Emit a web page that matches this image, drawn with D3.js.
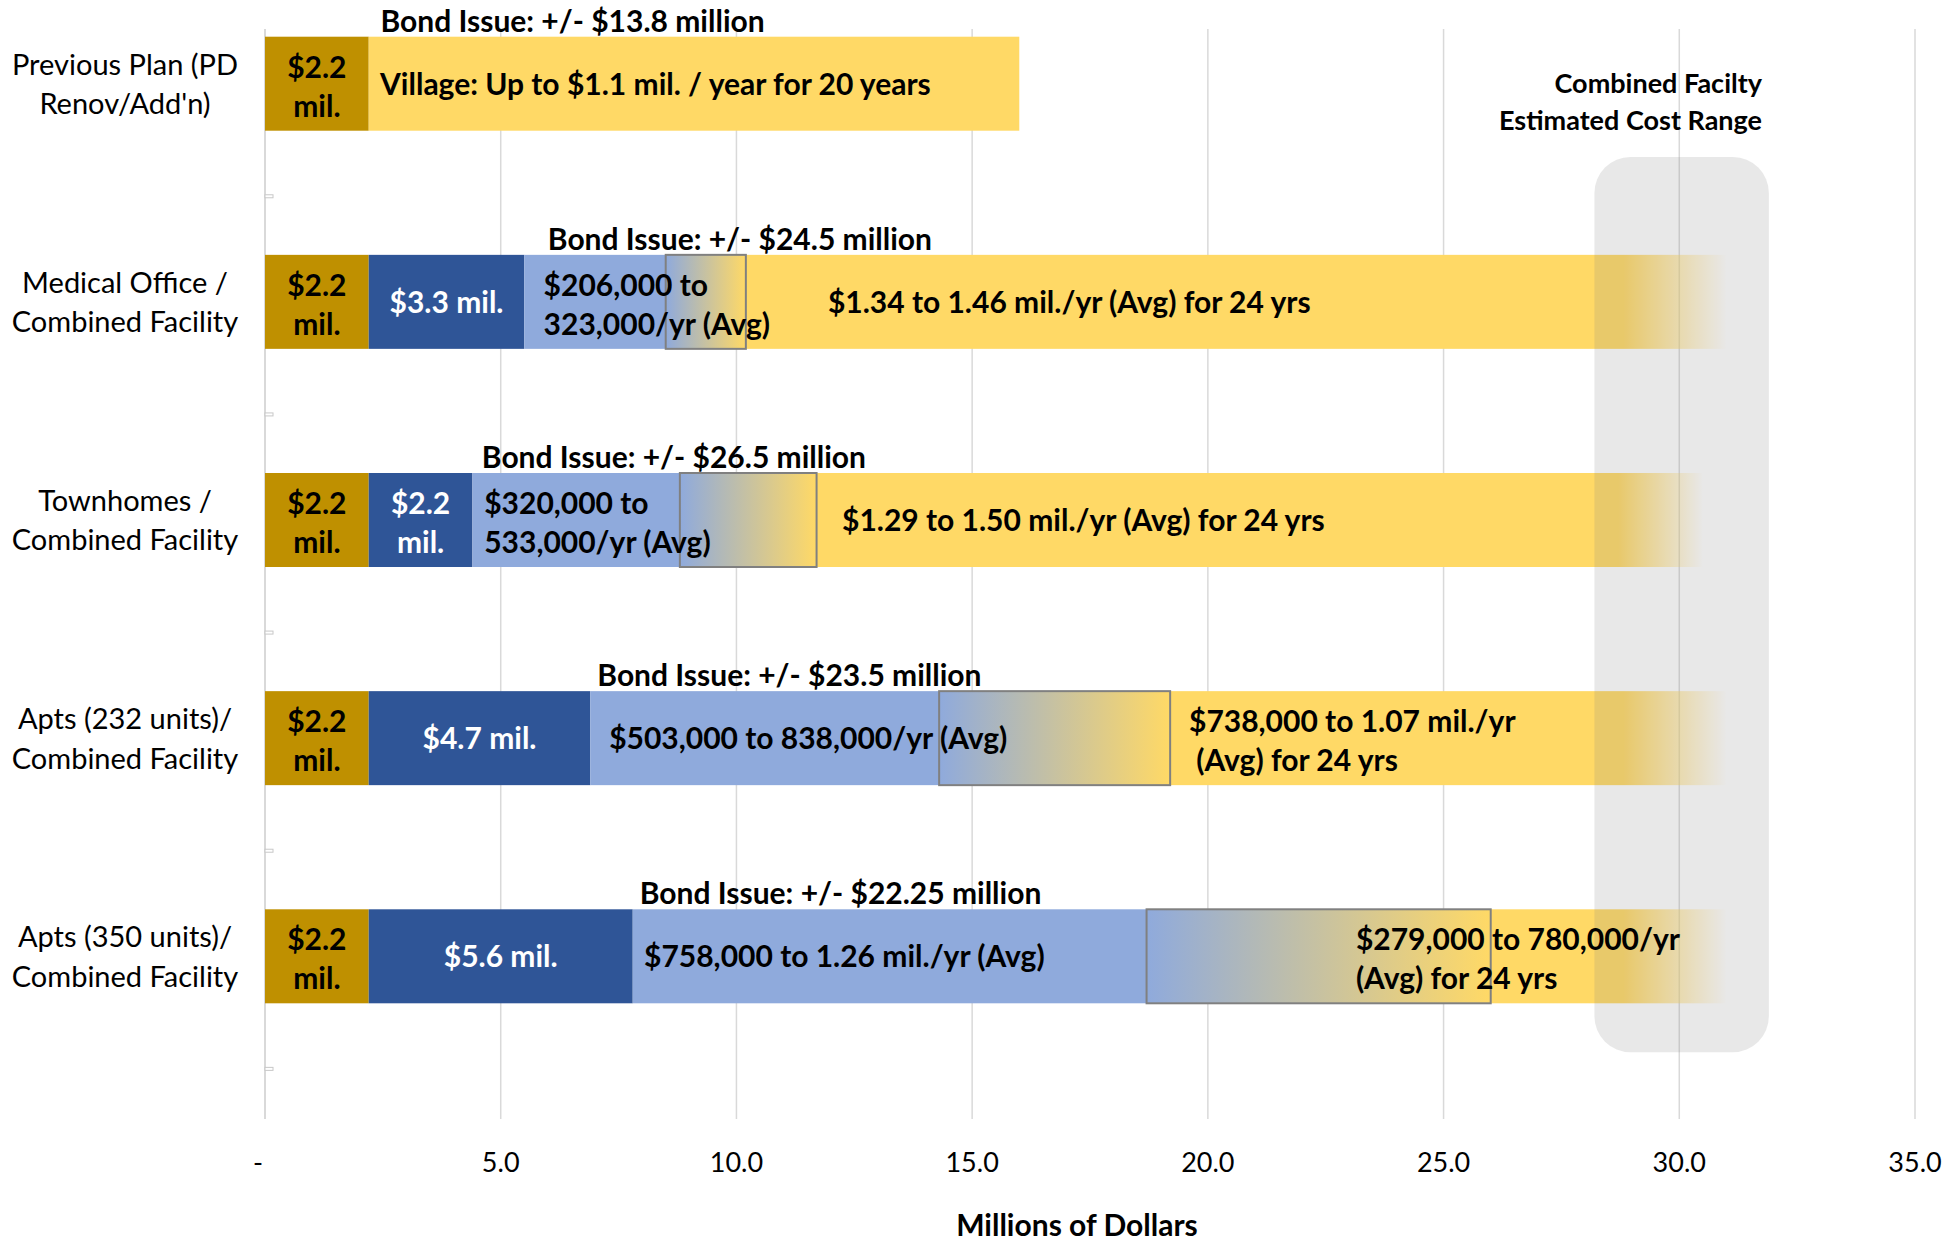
<!DOCTYPE html>
<html>
<head>
<meta charset="utf-8">
<script src="https://cdn.jsdelivr.net/npm/d3@7"></script>
<style>
  body { margin: 0; background: #fff; }
  text { font-family: Lato, "Open Sans", sans-serif; }
</style>
</head>
<body>
<div id="chart"></div>
<script>
// categories, one entry per row (label lines)
var categories = [
  ["Previous Plan (PD", "Renov/Add'n)"],
  ["Medical Office /", "Combined Facility"],
  ["Townhomes /", "Combined Facility"],
  ["Apts (232 units)/", "Combined Facility"],
  ["Apts (350 units)/", "Combined Facility"]
];

// segment lengths, millions of dollars
var localShare = [2.2, 2.2, 2.2, 2.2, 2.2];
var developerShare = [0, 3.3, 2.2, 4.7, 5.6];
var pilotLow = [0, 3.0, 4.4, 7.4, 10.9];
var pilotRange = [0, 1.7, 2.9, 4.9, 7.3];
var villageEnd = [16.0, 31.0, 30.5, 31.0, 31.0];
var bondIssue = [13.8, 24.5, 26.5, 23.5, 22.25];
var costRange = [28.2, 31.9];

// texts inside the bars ("|" = line break)
var localLabels = ["$2.2|mil.", "$2.2|mil.", "$2.2|mil.", "$2.2|mil.", "$2.2|mil."];
var developerLabels = ["", "$3.3 mil.", "$2.2|mil.", "$4.7 mil.", "$5.6 mil."];
var pilotLabels = ["", "$206,000 to|323,000/yr (Avg)", "$320,000 to|533,000/yr (Avg)",
                   "$503,000 to 838,000/yr (Avg)", "$758,000 to 1.26 mil./yr (Avg)"];
var villageLabels = ["Village: Up to $1.1 mil. / year for 20 years",
                     "$1.34 to 1.46 mil./yr (Avg) for 24 yrs",
                     "$1.29 to 1.50 mil./yr (Avg) for 24 yrs",
                     "$738,000 to 1.07 mil./yr| (Avg) for 24 yrs",
                     "$279,000 to 780,000/yr|(Avg) for 24 yrs"];
// where the left-aligned texts start, in millions
var bondLabelAt = [2.45, 6.0, 4.6, 7.05, 7.95];
var pilotLabelAt = [0, 5.91, 4.65, 7.3, 8.04];
var villageLabelAt = [2.44, 11.94, 12.24, 19.6, 23.14];

var xTicks = [0, 5, 10, 15, 20, 25, 30, 35];

var W = 1954, H = 1241;
var plotTop = 29, plotBottom = 1119;
var barH = 94;

var x = d3.scaleLinear().domain([0, 35]).range([265, 1915]);
var y = d3.scalePoint().domain(d3.range(categories.length)).range([83.7, 956.3]);
var yIdx = d3.scaleLinear().domain([0, categories.length - 1]).range([83.7, 956.3]);
var step = y.step();

var C = {gold: "#BF9000", blue: "#2F5597", light: "#8FAADC", yellow: "#FFD966", grid: "#D9D9D9"};

var svg = d3.select("#chart").append("svg")
  .attr("width", W).attr("height", H);
var defs = svg.append("defs");

var rangeGrad = defs.append("linearGradient").attr("id", "rangeGrad");
rangeGrad.append("stop").attr("offset", "0").attr("stop-color", C.light);
rangeGrad.append("stop").attr("offset", "1").attr("stop-color", C.yellow);

// gridlines
svg.append("g").selectAll("line")
  .data(xTicks)
  .join("line")
    .attr("x1", d => x(d)).attr("x2", d => x(d))
    .attr("y1", plotTop).attr("y2", plotBottom)
    .attr("stroke", C.grid)
    .attr("stroke-width", d => d === 0 ? 2 : 1.5);

// small category tick marks on the value axis
svg.append("g").selectAll("rect")
  .data(d3.range(categories.length))
  .join("rect")
    .attr("x", x(0)).attr("y", d => y(d) + step / 2 + 2)
    .attr("width", 8).attr("height", 3)
    .attr("fill", "#fff").attr("stroke", "#C8C8C8").attr("stroke-width", 1);

// bars
var rows = svg.append("g").selectAll("g")
  .data(d3.range(categories.length))
  .join("g")
    .attr("transform", i => "translate(0," + (y(i) - barH / 2) + ")");

rows.each(function(i) {
  var g = d3.select(this);
  var a = 0, b = localShare[i];
  g.append("rect").attr("x", x(a)).attr("width", x(b) - x(a)).attr("height", barH).attr("fill", C.gold);
  a = b; b = a + developerShare[i];
  if (b > a) g.append("rect").attr("x", x(a)).attr("width", x(b) - x(a)).attr("height", barH).attr("fill", C.blue);
  a = b; b = a + pilotLow[i];
  if (b > a) g.append("rect").attr("x", x(a)).attr("width", x(b) - x(a)).attr("height", barH).attr("fill", C.light);
  a = b; b = a + pilotRange[i];
  var rA = a, rB = b;
  a = b; b = villageEnd[i];
  var fill = C.yellow;
  if (b > costRange[0]) {
    var gr = defs.append("linearGradient").attr("id", "fade" + i)
      .attr("gradientUnits", "userSpaceOnUse")
      .attr("x1", x(costRange[0])).attr("x2", x(b)).attr("y1", 0).attr("y2", 0);
    gr.append("stop").attr("offset", "0").attr("stop-color", C.yellow).attr("stop-opacity", 1);
    gr.append("stop").attr("offset", "0.22").attr("stop-color", C.yellow).attr("stop-opacity", 1);
    gr.append("stop").attr("offset", "1").attr("stop-color", C.yellow).attr("stop-opacity", 0);
    fill = "url(#fade" + i + ")";
  }
  g.append("rect").attr("x", x(a)).attr("width", x(b) - x(a)).attr("height", barH).attr("fill", fill);
  if (rB > rA) {
    g.append("rect").attr("x", x(rA)).attr("width", x(rB) - x(rA)).attr("height", barH)
      .attr("fill", "url(#rangeGrad)").attr("stroke", "#808080").attr("stroke-width", 2);
  }
});

// estimated cost range overlay
svg.append("rect")
  .attr("x", x(costRange[0])).attr("width", x(costRange[1]) - x(costRange[0]))
  .attr("y", yIdx(0.336)).attr("height", yIdx(4.44) - yIdx(0.336))
  .attr("rx", 36).attr("ry", 36)
  .attr("fill", "#808080").attr("fill-opacity", 0.18);

var FS = 30;

function lines(g, str, xp, yc, anchor, color, weight) {
  var parts = str.split("|");
  var offs = parts.length === 1 ? [0] : [-17, 22];
  parts.forEach(function(p, k) {
    g.append("text")
      .attr("x", xp).attr("y", yc + offs[k]).attr("dy", "0.36em")
      .attr("text-anchor", anchor)
      .attr("fill", color)
      .style("font-size", FS + "px")
      .style("font-weight", weight)
      .style("white-space", "pre")
      .text(p);
  });
}

var labels = svg.append("g");
d3.range(categories.length).forEach(function(i) {
  var c = y(i);
  var a0 = localShare[i], a1 = a0 + developerShare[i];
  lines(labels, localLabels[i], x(a0 / 2), c, "middle", "#000", "bold");
  if (developerLabels[i]) lines(labels, developerLabels[i], x((a0 + a1) / 2), c, "middle", "#fff", "bold");
  if (pilotLabels[i]) lines(labels, pilotLabels[i], x(pilotLabelAt[i]), c, "start", "#000", "bold");
  lines(labels, villageLabels[i], x(villageLabelAt[i]), c, "start", "#000", "bold");

  labels.append("text")
    .attr("x", x(bondLabelAt[i])).attr("y", c - barH / 2 - 5)
    .style("font-size", FS + "px").style("font-weight", "bold")
    .text("Bond Issue: +/- $" + bondIssue[i] + " million");

  categories[i].forEach(function(t, k) {
    labels.append("text")
      .attr("x", 125).attr("y", c + (k === 0 ? -19.5 : 20)).attr("dy", "0.36em")
      .attr("text-anchor", "middle")
      .style("font-size", "29px")
      .text(t);
  });
});

// cost range caption
["Combined Facilty", "Estimated Cost Range"].forEach(function(t, k) {
  labels.append("text")
    .attr("x", 1762).attr("y", 83 + k * 37).attr("dy", "0.36em")
    .attr("text-anchor", "end")
    .style("font-size", "27px").style("font-weight", "bold")
    .text(t);
});

// x axis labels
svg.append("g").selectAll("text")
  .data(xTicks)
  .join("text")
    .attr("x", d => d === 0 ? x(d) - 7 : x(d))
    .attr("y", 1162).attr("dy", "0.36em")
    .attr("text-anchor", "middle")
    .style("font-size", "27px")
    .text(d => d === 0 ? "-" : d3.format(".1f")(d));

svg.append("text")
  .attr("x", 1077).attr("y", 1225).attr("dy", "0.36em")
  .attr("text-anchor", "middle")
  .style("font-size", "30px").style("font-weight", "bold")
  .text("Millions of Dollars");
</script>
</body>
</html>
